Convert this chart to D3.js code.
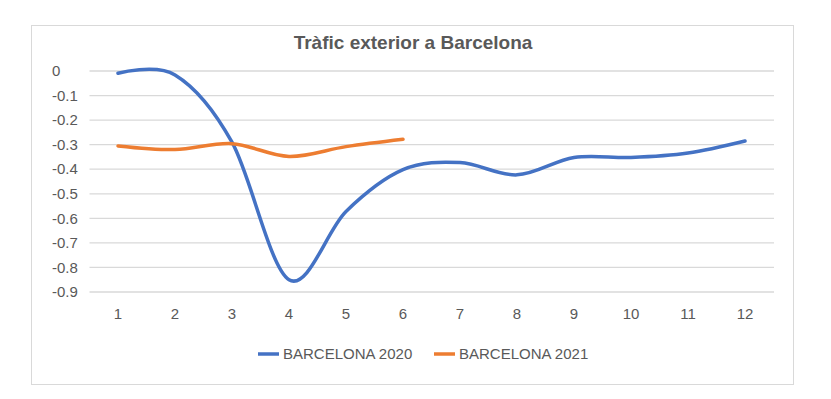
<!DOCTYPE html>
<html>
<head>
<meta charset="utf-8">
<script src="https://cdn.jsdelivr.net/npm/d3@7"></script>
<style>
  body { margin: 0; background: #fff; }
  text { font-family: "Liberation Sans", Arial, sans-serif; fill: #595959; }
</style>
</head>
<body>
<svg id="chart" width="831" height="399"></svg>
<script>
// data
var months = [1, 2, 3, 4, 5, 6, 7, 8, 9, 10, 11, 12];
var bcn2020 = [-0.009, -0.016, -0.29, -0.85, -0.572, -0.402, -0.373, -0.423, -0.352, -0.352, -0.334, -0.285];
var bcn2021 = [-0.305, -0.32, -0.296, -0.348, -0.308, -0.278];
var yTicks = [0, -0.1, -0.2, -0.3, -0.4, -0.5, -0.6, -0.7, -0.8, -0.9];
var seriesNames = ["BARCELONA 2020", "BARCELONA 2021"];
var colors = ["#4472c4", "#ed7d31"];

var svg = d3.select("#chart");

// chart frame
svg.append("rect")
    .attr("x", 31.5).attr("y", 25.5)
    .attr("width", 762).attr("height", 359)
    .attr("fill", "#fff")
    .attr("stroke", "#d9d9d9");

svg.append("text")
    .attr("x", 413)
    .attr("y", 49)
    .attr("text-anchor", "middle")
    .style("font-size", "19px")
    .style("font-weight", "bold")
    .text("Tràfic exterior a Barcelona");

var x = d3.scalePoint()
    .domain(months)
    .range([118, 745]);

var y = d3.scaleLinear()
    .domain([-0.9, 0])
    .range([292, 71]);

// gridlines
svg.selectAll(".grid")
    .data(yTicks)
    .enter().append("line")
    .attr("class", "grid")
    .attr("x1", 89.5)
    .attr("x2", 774)
    .attr("y1", function(d) { return y(d); })
    .attr("y2", function(d) { return y(d); })
    .attr("stroke", "#d9d9d9")
    .attr("stroke-width", 1.3);

// y labels (left aligned like Excel did here)
svg.selectAll(".ylab")
    .data(yTicks)
    .enter().append("text")
    .attr("class", "ylab")
    .attr("x", 52)
    .attr("y", function(d) { return y(d); })
    .attr("dy", "0.35em")
    .style("font-size", "15px")
    .text(function(d) { return d === 0 ? "0" : d3.format(".1f")(d).replace("−", "-"); });

// x labels
svg.selectAll(".xlab")
    .data(months)
    .enter().append("text")
    .attr("class", "xlab")
    .attr("x", function(d) { return x(d); })
    .attr("y", 314)
    .attr("dy", "0.35em")
    .attr("text-anchor", "middle")
    .style("font-size", "15px")
    .text(function(d) { return d; });

var line = d3.line()
    .x(function(d, i) { return x(months[i]); })
    .y(function(d) { return y(d); })
    .curve(d3.curveCardinal.tension(0));

[bcn2020, bcn2021].forEach(function(s, k) {
    svg.append("path")
        .datum(s)
        .attr("d", line)
        .attr("fill", "none")
        .attr("stroke", colors[k])
        .attr("stroke-width", 3.5)
        .attr("stroke-linecap", "round");
});

// legend
var legX = [258, 434];
seriesNames.forEach(function(name, k) {
    svg.append("line")
        .attr("x1", legX[k]).attr("x2", legX[k] + 21)
        .attr("y1", 354).attr("y2", 354)
        .attr("stroke", colors[k])
        .attr("stroke-width", 3.5);
    svg.append("text")
        .attr("x", legX[k] + 25)
        .attr("y", 354)
        .attr("dy", "0.35em")
        .style("font-size", "15px")
        .text(name);
});
</script>
</body>
</html>
